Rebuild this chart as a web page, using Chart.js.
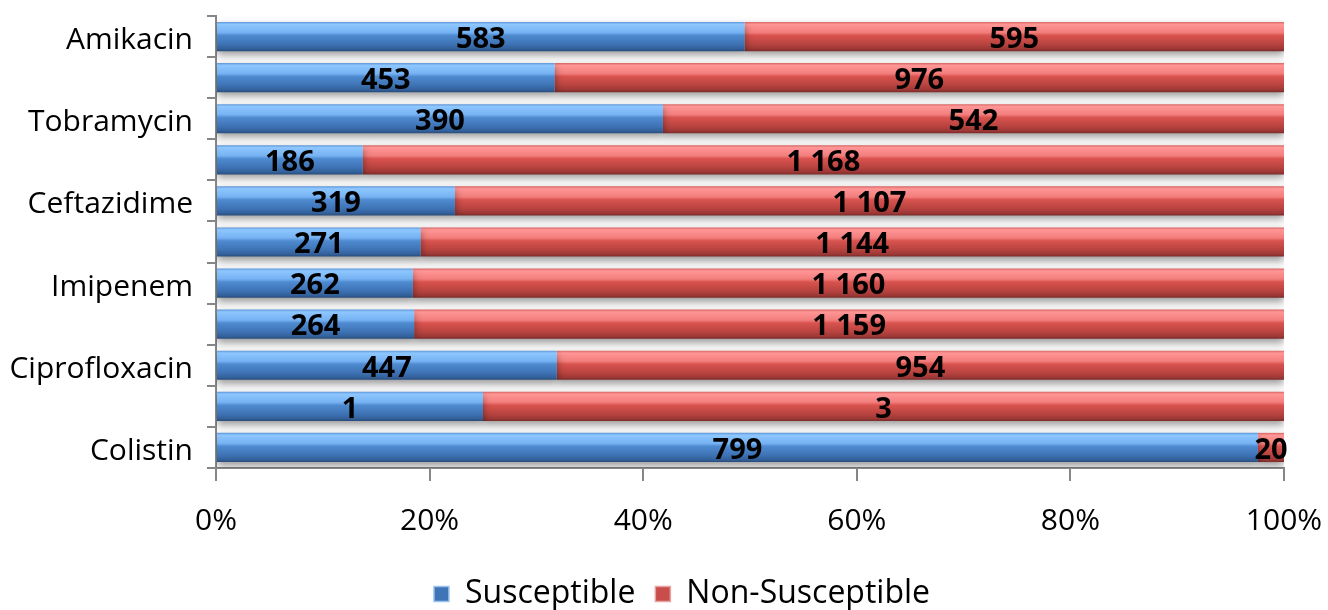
<!DOCTYPE html>
<html><head><meta charset="utf-8">
<script src="https://cdn.jsdelivr.net/npm/chart.js@4"></script>
<style>html,body{margin:0;padding:0;background:#fff}#wrap{width:1328px;height:610px}</style>
</head><body><div id="wrap"><canvas id="c" width="1328" height="610"></canvas></div>
<script>
// Isolate counts per antibiotic (rows without a printed name are skipped on the axis)
const categories = ['Amikacin', '', 'Tobramycin', '', 'Ceftazidime', '', 'Imipenem', '', 'Ciprofloxacin', '', 'Colistin'];
const susceptible = [583, 453, 390, 186, 319, 271, 262, 264, 447, 1, 799];
const nonSusceptible = [595, 976, 542, 1168, 1107, 1144, 1160, 1159, 954, 3, 20];
const seriesNames = ['Susceptible', 'Non-Susceptible'];
const percentTicks = [0, 20, 40, 60, 80, 100];

const FONT = "'Open Sans', 'Liberation Sans', sans-serif";
const AXIS_GREY = '#868686';
const BAR_PCT = 0.71;

const totals = susceptible.map((s, i) => s + nonSusceptible[i]);
const shareOf = arr => arr.map((v, i) => v / totals[i] * 100);

const spaced = n => String(n).replace(/\B(?=(\d{3})+(?!\d))/g, ' ');

const blueStops = [[0, '#5f95d8'], [0.08, '#8ec7ff'], [0.36, '#76b2f3'], [0.46, '#4f8bd0'], [0.76, '#3e73b5'], [0.92, '#33609a'], [1, '#294c7a']];
const redStops = [[0, '#d86462'], [0.08, '#ff9696'], [0.36, '#f27e7c'], [0.46, '#d9534f'], [0.76, '#b8433f'], [0.92, '#9c3836'], [1, '#7a2b29']];

function glossy(stops, solid) {
  return ctx => {
    const chart = ctx.chart;
    const ys = chart.scales.y;
    if (!chart.chartArea || !ys || ctx.dataIndex === undefined) return solid;
    const yc = ys.getPixelForValue(ctx.dataIndex);
    const h = (ys.height / categories.length) * BAR_PCT;
    const g = chart.ctx.createLinearGradient(0, yc - h / 2, 0, yc + h / 2);
    stops.forEach(([o, c]) => g.addColorStop(o, c));
    return g;
  };
}

// Soft drop shadow under the bars, then the counts printed on each segment
const barDecor = {
  id: 'barDecor',
  afterLayout(chart) {
    // centre the legend under the plot area rather than the whole canvas
    const lg = chart.legend;
    if (lg) { lg.left += 40; lg.right += 40; }
  },
  beforeDatasetsDraw(chart) {
    const c = chart.ctx;
    c.save();
    c.shadowColor = 'rgba(0,0,0,0.40)';
    c.shadowBlur = 8;
    c.shadowOffsetY = 4;
  },
  afterDatasetsDraw(chart) {
    const c = chart.ctx;
    c.restore();
    c.save();
    c.font = "bold 29px " + FONT;
    c.fillStyle = '#000';
    c.textAlign = 'center';
    c.textBaseline = 'middle';
    chart.data.datasets.forEach((ds, di) => {
      const meta = chart.getDatasetMeta(di);
      meta.data.forEach((el, i) => {
        const cx = (el.x + el.base) / 2;
        c.fillText(spaced(ds.counts[i]), cx, el.y + 3);
      });
    });
    c.restore();
  }
};

new Chart(document.getElementById('c'), {
  type: 'bar',
  data: {
    labels: categories,
    datasets: [
      { label: seriesNames[0], data: shareOf(susceptible), counts: susceptible,
        backgroundColor: glossy(blueStops, '#4f81bd') },
      { label: seriesNames[1], data: shareOf(nonSusceptible), counts: nonSusceptible,
        backgroundColor: glossy(redStops, '#c0504d') }
    ]
  },
  options: {
    indexAxis: 'y',
    responsive: false,
    animation: false,
    devicePixelRatio: 1,
    barPercentage: BAR_PCT,
    categoryPercentage: 1,
    layout: { padding: { top: 16, right: 44, left: 0, bottom: 0 } },
    scales: {
      x: {
        stacked: true, min: 0, max: 100,
        afterBuildTicks: s => { s.ticks = percentTicks.map(v => ({ value: v })); },
        afterFit: s => { s.height = 90; s.paddingLeft = 0; s.paddingRight = 0; },
        grid: { drawOnChartArea: false, color: AXIS_GREY, lineWidth: 2, tickLength: 13 },
        border: { color: AXIS_GREY, width: 2 },
        ticks: { color: '#000', font: { family: FONT, size: 30 }, padding: 22, maxRotation: 0,
                 callback: v => v + '%' }
      },
      y: {
        stacked: true,
        afterFit: s => { s.width = 216; s.paddingTop = 0; s.paddingBottom = 0; },
        grid: { drawOnChartArea: false, offset: true, color: AXIS_GREY, lineWidth: 2, tickLength: 9 },
        border: { color: AXIS_GREY, width: 2 },
        ticks: { color: '#000', font: { family: FONT, size: 30 }, padding: 14, autoSkip: false, labelOffset: 4 }
      }
    },
    plugins: {
      legend: {
        position: 'bottom',
        maxHeight: 52,
        labels: {
          color: '#000', font: { family: FONT, size: 32 }, boxWidth: 15, boxHeight: 15, padding: 20,
          generateLabels: chart => chart.data.datasets.map((ds, i) => ({
            text: ds.label, datasetIndex: i,
            fillStyle: i === 0 ? '#3f74b6' : '#c94d4a',
            strokeStyle: i === 0 ? '#9cc3ee' : '#e6a3a1', lineWidth: 1.5, hidden: false
          }))
        }
      },
      tooltip: { enabled: false }
    }
  },
  plugins: [barDecor]
});
</script></body></html>
